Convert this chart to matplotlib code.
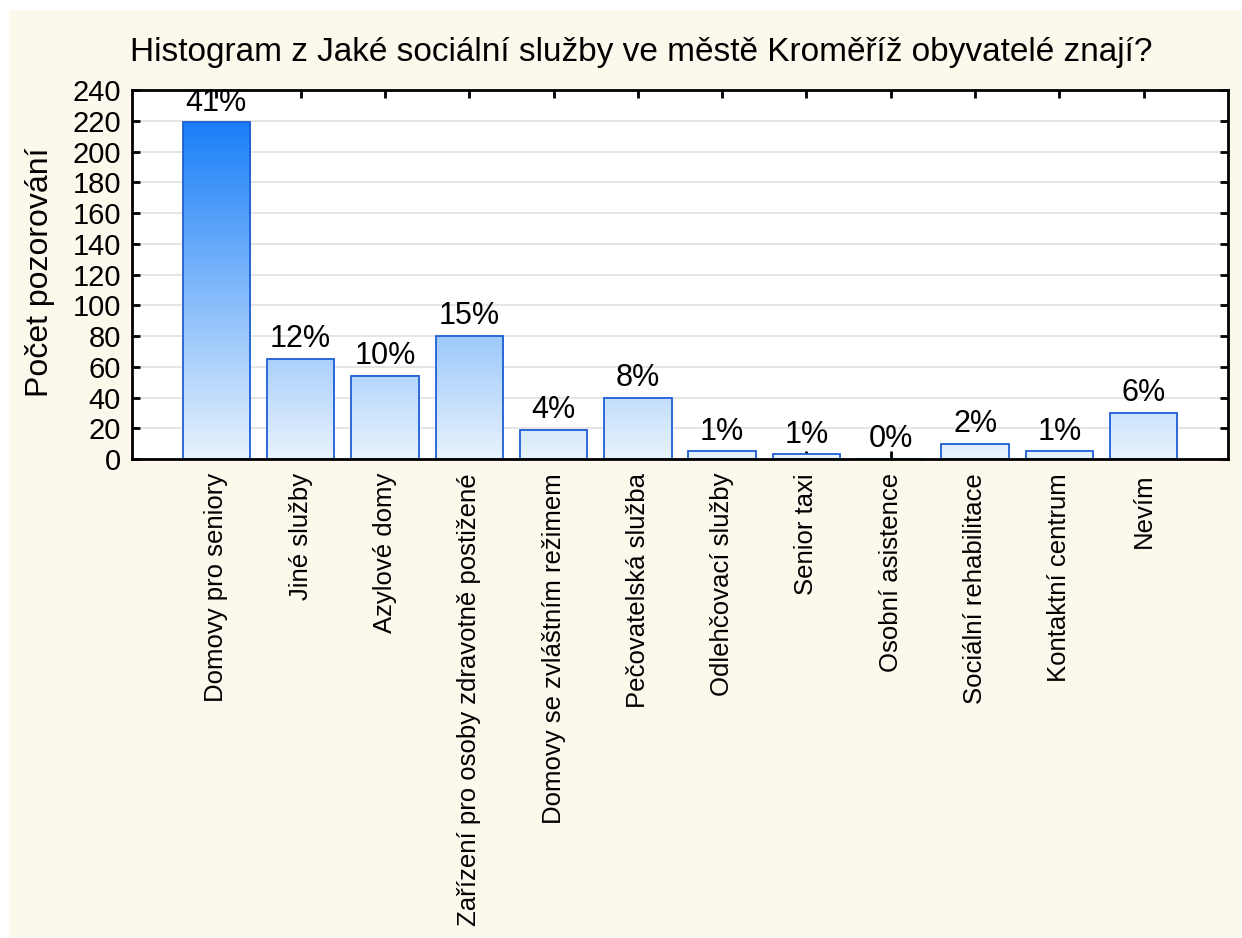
import matplotlib.pyplot as plt
import numpy as np
from matplotlib.colors import LinearSegmentedColormap
from matplotlib.patches import Rectangle

plt.rcParams['font.family'] = ['Liberation Sans', 'DejaVu Sans']

categories = [
    "Domovy pro seniory",
    "Jiné služby",
    "Azylové domy",
    "Zařízení pro osoby zdravotně postižené",
    "Domovy se zvláštním režimem",
    "Pečovatelská služba",
    "Odlehčovací služby",
    "Senior taxi",
    "Osobní asistence",
    "Sociální rehabilitace",
    "Kontaktní centrum",
    "Nevím",
]
counts = [219, 65, 54, 80, 19, 40, 5, 3, 0, 10, 5, 30]
title = "Histogram z Jaké sociální služby ve městě Kroměříž obyvatelé znají?"
ylabel = "Počet pozorování"

total = sum(counts)
percents = [100 * c / total for c in counts]

fig = plt.figure(figsize=(12.42, 9.38), dpi=100)
fig.patch.set_facecolor('white')
# cream panel behind everything
fig.patches.append(Rectangle((9 / 1242, 0), 1, 1 - 10 / 938, transform=fig.transFigure,
                             facecolor='#fdf8ec', edgecolor='none', zorder=-10))

ax = fig.add_axes([132 / 1242, 1 - 459 / 938, (1228 - 132) / 1242, (459 - 90) / 938])
ax.set_facecolor('white')

# bar fill shades with the value: pale at 0, strong blue at the maximum
cmap = LinearSegmentedColormap.from_list('bluegrad', ['#e8f3fd', '#1a7ff8'])
ymax_val = max(counts)

x = np.arange(1, len(categories) + 1)
width = 0.8
for xi, c, p in zip(x, counts, percents):
    x0 = xi - width / 2
    if c > 0:
        top_frac = c / ymax_val
        img = np.linspace(0, top_frac, 256).reshape(-1, 1)
        ax.imshow(img, cmap=cmap, vmin=0, vmax=1, origin='lower', aspect='auto',
                  extent=(x0, x0 + width, 0, c), zorder=2, interpolation='bilinear')
    ax.add_patch(Rectangle((x0, 0), width, c, facecolor='none', edgecolor='#1f5fd6',
                           linewidth=1.3, zorder=3))
    ax.text(xi, c + 3, f"{p:.0f}%", ha='center', va='bottom', fontsize=22, zorder=4)

ax.set_xlim(0, len(categories) + 1)
ax.set_ylim(0, 240)
ax.set_yticks(np.arange(0, 241, 20))
ax.set_xticks(x)
ax.set_xticklabels(categories, rotation=90, ha='center', va='top', fontsize=18.5)
ax.tick_params(axis='y', labelsize=21, direction='in', length=6, width=2,
               left=True, right=True, pad=8)
ax.tick_params(axis='x', direction='in', length=6, width=2, top=True, bottom=True, pad=10)
ax.grid(True, axis='y', color='#e0e0e0', linewidth=1.2, zorder=0)
ax.set_axisbelow(True)
for s in ax.spines.values():
    s.set_linewidth(2)
    s.set_zorder(5)

fig.text(40 / 1242, 1 - 272 / 938, ylabel, rotation=90, ha='center', va='center', fontsize=23)
fig.text(641 / 1242, 1 - 53 / 938, title, ha='center', va='center', fontsize=24)

fig.savefig('out.png', dpi=100)
